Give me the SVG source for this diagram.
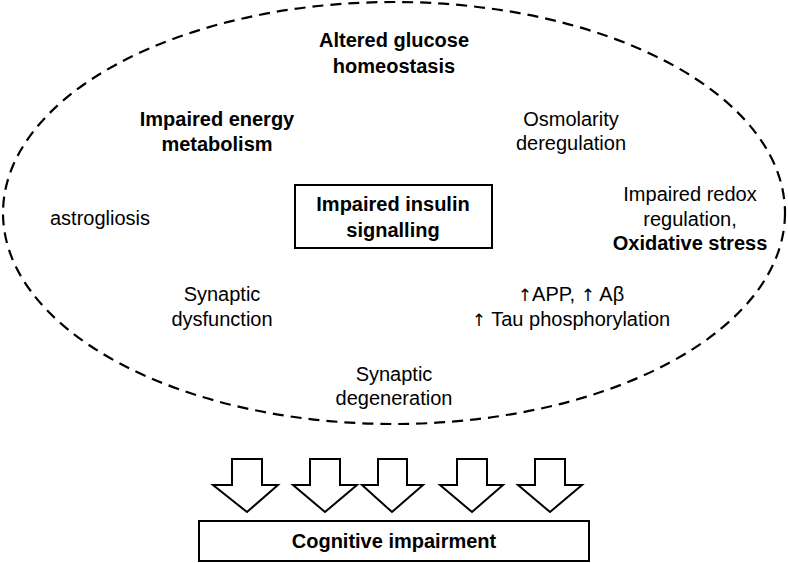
<svg xmlns="http://www.w3.org/2000/svg" width="788" height="563" viewBox="0 0 788 563">
<style>
text{font-family:"Liberation Sans",Arial,sans-serif;font-size:20px;fill:#000;text-anchor:middle}
.b{font-weight:bold}
.ar{font-family:"DejaVu Sans","Liberation Sans",sans-serif;font-size:17px}
.box{fill:#fff;stroke:#000;stroke-width:2}
.arr{fill:#fff;stroke:#000;stroke-width:2;stroke-linejoin:miter}
</style>
<rect width="788" height="563" fill="#fff"/>
<g id="ellipse"><ellipse cx="394" cy="213" rx="391" ry="211" fill="none" stroke="#000" stroke-width="2.2" stroke-dasharray="11,7"/></g>
<g id="n-glucose"><text class="b" x="394" y="47">Altered glucose</text><text class="b" x="394" y="73">homeostasis</text></g>
<g id="n-energy"><text class="b" x="217" y="126">Impaired energy</text><text class="b" x="217" y="151">metabolism</text></g>
<g id="n-osmo"><text x="571" y="126">Osmolarity</text><text x="571" y="150">deregulation</text></g>
<g id="n-astro"><text x="100" y="225">astrogliosis</text></g>
<g id="n-insulin"><rect class="box" x="295" y="185" width="197" height="63"/><text class="b" x="393" y="211">Impaired insulin</text><text class="b" x="393" y="237">signalling</text></g>
<g id="n-redox"><text x="690" y="201">Impaired redox</text><text x="690" y="226">regulation,</text><text class="b" x="690" y="250">Oxidative stress</text></g>
<g id="n-syndys"><text x="222" y="301">Synaptic</text><text x="222" y="326">dysfunction</text></g>
<g id="n-app"><text x="571" y="301"><tspan class="ar">↑</tspan>APP, <tspan class="ar">↑</tspan> Aβ</text><text x="571" y="326"><tspan class="ar">↑</tspan> Tau phosphorylation</text></g>
<g id="n-syndeg"><text x="394" y="381">Synaptic</text><text x="394" y="405">degeneration</text></g>
<g id="connectors">
<polygon class="arr" points="232,459 262,459 262,485 278,485 247,512 213,485 232,485"/>
<polygon class="arr" points="310,459 340,459 340,485 357,485 325,512 293,485 310,485"/>
<polygon class="arr" points="378,459 407,459 407,485 423,485 392,512 362,485 378,485"/>
<polygon class="arr" points="457,459 487,459 487,485 503,485 472,512 440,485 457,485"/>
<polygon class="arr" points="535,459 565,459 565,485 582,485 550,512 518,485 535,485"/>
</g>
<g id="n-cognitive"><rect class="box" x="199" y="521" width="390" height="40"/><text class="b" x="394" y="548">Cognitive impairment</text></g>
</svg>
